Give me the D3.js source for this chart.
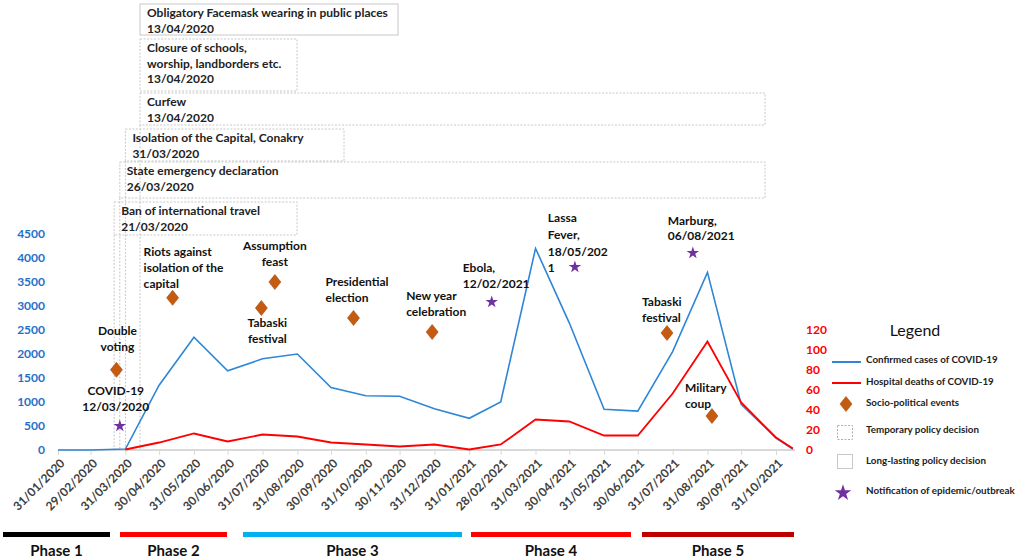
<!DOCTYPE html>
<html>
<head>
<meta charset="utf-8">
<script src="https://cdn.jsdelivr.net/npm/d3@7"></script>
<style>
  body { margin: 0; background: #fff; }
  svg { display: block; font-family: Lato, "Open Sans", sans-serif; }
</style>
</head>
<body>
<script>
// Monthly series (last point is mid-November 2021)
const dates = ["2020-01-31", "2020-02-29", "2020-03-31", "2020-04-30", "2020-05-31", "2020-06-30",
  "2020-07-31", "2020-08-31", "2020-09-30", "2020-10-31", "2020-11-30", "2020-12-31",
  "2021-01-31", "2021-02-28", "2021-03-31", "2021-04-30", "2021-05-31", "2021-06-30",
  "2021-07-31", "2021-08-31", "2021-09-30", "2021-10-31", "2021-11-15"];
const cases = [0, 0, 20, 1350, 2350, 1650, 1900, 2000, 1300, 1130, 1120, 860,
  660, 1000, 4200, 2650, 850, 810, 2050, 3700, 950, 250, 20];
const deaths = [null, null, 0, 7, 16, 8, 15, 13, 7, 5, 3, 5,
  0, 5, 30, 28, 14, 14, 56, 108, 47, 12, 1];

const tickDates = dates.slice(0, 22);
const casesTicks = [0, 500, 1000, 1500, 2000, 2500, 3000, 3500, 4000, 4500];
const deathsTicks = [0, 20, 40, 60, 80, 100, 120];

// Policy decisions (boxes)
const policies = [
  { lines: ["Obligatory Facemask wearing in public places", "13/04/2020"], date: "2020-04-13", kind: "long" },
  { lines: ["Closure of schools,", "worship, landborders etc.", "13/04/2020"], date: "2020-04-13", kind: "temp" },
  { lines: ["Curfew", "13/04/2020"], date: "2020-04-13", kind: "temp" },
  { lines: ["Isolation of the Capital, Conakry", "31/03/2020"], date: "2020-03-31", kind: "temp" },
  { lines: ["State emergency declaration", "26/03/2020"], date: "2020-03-26", kind: "temp" },
  { lines: ["Ban of international travel", "21/03/2020"], date: "2020-03-21", kind: "temp" }
];
// box top, bottom and right edge in pixels
const policyBoxes = [[4, 35, 398], [39, 91, 297], [93, 125, 765], [129, 161, 344], [162, 198, 765], [202, 235, 297]];

// Events: where the marker sits, in (date, cases) units
const events = [
  { kind: "socio", date: "2020-03-23", level: 1670, lines: ["Double", "voting"] },
  { kind: "epi", date: "2020-03-26", level: 520, lines: ["COVID-19", "12/03/2020"] },
  { kind: "socio", date: "2020-05-12", level: 3170, lines: ["Riots against", "isolation of the", "capital"] },
  { kind: "socio", date: "2020-07-30", level: 2958, lines: ["Tabaski", "festival"] },
  { kind: "socio", date: "2020-08-11", level: 3500, lines: ["Assumption", "feast"] },
  { kind: "socio", date: "2020-10-20", level: 2750, lines: ["Presidential", "election"] },
  { kind: "socio", date: "2020-12-29", level: 2458, lines: ["New year", "celebration"] },
  { kind: "epi", date: "2021-02-20", level: 3104, lines: ["Ebola,", "12/02/2021"] },
  { kind: "epi", date: "2021-05-05", level: 3833, lines: ["Lassa", "Fever,", "18/05/202", "1"] },
  { kind: "epi", date: "2021-08-18", level: 4125, lines: ["Marburg,", "06/08/2021"] },
  { kind: "socio", date: "2021-07-26", level: 2438, lines: ["Tabaski", "festival"] },
  { kind: "socio", date: "2021-09-04", level: 708, lines: ["Military", "coup"] }
];
// label offsets from marker: dx, dy of first line, anchor, line height
const eventLabels = [
  [1, -39, "middle", 16], [-4, -34, "middle", 16], [-29, -46, "start", 16],
  [6, 15, "middle", 16], [0, -36, "middle", 16], [-28, -36, "start", 16],
  [-26, -36, "start", 16], [-29, -33, "start", 16], [-27, -48, "start", 16.7],
  [-25, -31, "start", 15], [-25, -31, "start", 16], [-27, -28, "start", 16]
];

const phases = ["Phase 1", "Phase 2", "Phase 3", "Phase 4", "Phase 5"];
const phaseColors = ["#000000", "#ff0000", "#00b0f0", "#ff0000", "#c00000"];
const phaseSpans = [[3, 110], [120, 227], [243, 462], [471, 631], [642, 794]];

const legendItems = ["Confirmed cases of COVID-19", "Hospital deaths of COVID-19", "Socio-political events",
  "Temporary policy decision", "Long-lasting policy decision", "Notification of epidemic/outbreak"];

const width = 1021, height = 559;
const parse = d3.timeParse("%Y-%m-%d");
const blue = "#2e86d6", red = "#ff0000", orange = "#c55a11", purple = "#7030a0";

const svg = d3.select("body").append("svg")
  .attr("width", width).attr("height", height)
  .attr("viewBox", [0, 0, width, height]);

const x = d3.scaleTime().domain([parse("2020-01-31"), parse("2021-10-31")]).range([58, 776]);
const yL = d3.scaleLinear().domain([0, 4500]).range([450, 234]);
const yR = d3.scaleLinear().domain([0, 120]).range([449.5, 329.5]);

const pts = dates.map((d, i) => ({ date: parse(d), cases: cases[i], deaths: deaths[i] }));

// policy boxes and drop lines
const pol = svg.append("g");
policies.forEach((p, i) => {
  const [top, bottom, right] = policyBoxes[i];
  const left = x(parse(p.date));
  pol.append("rect")
    .attr("x", left).attr("y", top)
    .attr("width", right - left).attr("height", bottom - top)
    .attr("fill", i === 0 ? "#fff" : "none")
    .attr("stroke", "#c8c8c8").attr("stroke-width", 1)
    .attr("stroke-dasharray", p.kind === "temp" ? "2,1.5" : null);
  if (p.kind === "temp" && i >= 2) {
    pol.append("line")
      .attr("x1", left).attr("x2", left).attr("y1", bottom).attr("y2", 450)
      .attr("stroke", "#c8c8c8").attr("stroke-dasharray", "2,1.5");
  }
  p.lines.forEach((t, j) => {
    pol.append("text")
      .attr("x", left + 7).attr("y", top + 9 + j * 15.5).attr("dy", "0.35em")
      .attr("font-size", 12).attr("font-weight", "bold").attr("fill", "#222")
      .text(t);
  });
});

// x axis
svg.append("line").attr("x1", 58).attr("x2", 795).attr("y1", 450).attr("y2", 450)
  .attr("stroke", "#d9d9d9").attr("stroke-width", 2);
const xAxis = svg.append("g").attr("transform", "translate(0,451)")
  .call(d3.axisBottom(x).tickValues(tickDates.map(parse)).tickSize(4).tickFormat(d3.timeFormat("%d/%m/%Y")));
xAxis.select(".domain").remove();
xAxis.selectAll(".tick line").attr("stroke", "#d9d9d9");
xAxis.selectAll(".tick text")
  .attr("font-family", "Lato, sans-serif").attr("font-size", 12).attr("font-weight", "bold")
  .attr("fill", "#404040")
  .attr("text-anchor", "end").attr("dy", null).attr("y", 0)
  .attr("transform", "translate(7,13) rotate(-45)");

// left axis
const lAxis = svg.append("g").attr("transform", "translate(47,0)")
  .call(d3.axisLeft(yL).tickValues(casesTicks).tickSize(0).tickPadding(2).tickFormat(d3.format("d")));
lAxis.select(".domain").remove();
lAxis.selectAll("text").attr("font-family", "Lato, sans-serif").attr("font-size", 12)
  .attr("font-weight", "bold").attr("fill", "#1f70c8");

// right axis
const rAxis = svg.append("g").attr("transform", "translate(804,0)")
  .call(d3.axisRight(yR).tickValues(deathsTicks).tickSize(0).tickPadding(2));
rAxis.select(".domain").remove();
rAxis.selectAll("text").attr("font-family", "Lato, sans-serif").attr("font-size", 12)
  .attr("font-weight", "bold").attr("fill", red);

// lines
svg.append("path").datum(pts)
  .attr("fill", "none").attr("stroke", blue).attr("stroke-width", 1.6)
  .attr("d", d3.line().x(d => x(d.date)).y(d => yL(d.cases)));
svg.append("path").datum(pts.filter(d => d.deaths !== null))
  .attr("fill", "none").attr("stroke", red).attr("stroke-width", 1.8)
  .attr("d", d3.line().x(d => x(d.date)).y(d => yR(d.deaths)));

// markers
const diamond = "M0,-7.5L6,0L0,7.5L-6,0Z";
const ev = svg.append("g");
events.forEach((e, i) => {
  const cx = x(parse(e.date)), cy = yL(e.level);
  if (e.kind === "socio") {
    ev.append("path").attr("d", diamond).attr("transform", `translate(${cx},${cy})`)
      .attr("fill", orange).attr("stroke", "#a84a0c").attr("stroke-width", 0.6);
  } else {
    ev.append("path").attr("d", d3.symbol(d3.symbolStar, 48)()).attr("transform", `translate(${cx},${cy + 1})`)
      .attr("fill", purple);
  }
  const [dx, dy, anchor, lh] = eventLabels[i];
  e.lines.forEach((t, j) => {
    ev.append("text")
      .attr("x", cx + dx).attr("y", cy + dy + j * lh).attr("dy", "0.35em")
      .attr("text-anchor", anchor)
      .attr("font-size", 12).attr("font-weight", "bold").attr("fill", "#111")
      .text(t);
  });
});

// legend
const lg = svg.append("g");
lg.append("text").attr("x", 915).attr("y", 336).attr("text-anchor", "middle")
  .attr("font-size", 16).attr("fill", "#111").text("Legend");
const legendY = [360, 382, 403, 430, 461, 491];
lg.append("line").attr("x1", 832).attr("x2", 861).attr("y1", 362).attr("y2", 362)
  .attr("stroke", blue).attr("stroke-width", 2);
lg.append("line").attr("x1", 832).attr("x2", 861).attr("y1", 383).attr("y2", 383)
  .attr("stroke", red).attr("stroke-width", 2);
lg.append("path").attr("d", diamond).attr("transform", "translate(846,404)")
  .attr("fill", orange).attr("stroke", "#a84a0c").attr("stroke-width", 0.6);
lg.append("rect").attr("x", 837.5).attr("y", 425.5).attr("width", 15).attr("height", 14)
  .attr("fill", "none").attr("stroke", "#b0b0b0").attr("stroke-dasharray", "2,1.5");
lg.append("rect").attr("x", 837.5).attr("y", 454.5).attr("width", 15).attr("height", 14)
  .attr("fill", "none").attr("stroke", "#c8c8c8");
lg.append("path").attr("d", d3.symbol(d3.symbolStar, 85)()).attr("transform", "translate(843,493)")
  .attr("fill", purple);
legendItems.forEach((t, i) => {
  lg.append("text").attr("x", 866).attr("y", legendY[i]).attr("dy", "0.35em")
    .attr("font-size", 9.8).attr("font-weight", "bold").attr("fill", "#222").text(t);
});

// phases
const ph = svg.append("g");
phases.forEach((p, i) => {
  const [a, b] = phaseSpans[i];
  ph.append("rect").attr("x", a).attr("y", 532).attr("width", b - a).attr("height", 5)
    .attr("fill", phaseColors[i]);
  ph.append("text").attr("x", (a + b) / 2).attr("y", 556).attr("text-anchor", "middle")
    .attr("font-size", 15).attr("font-weight", "bold").attr("fill", "#111").text(p);
});
</script>
</body>
</html>
